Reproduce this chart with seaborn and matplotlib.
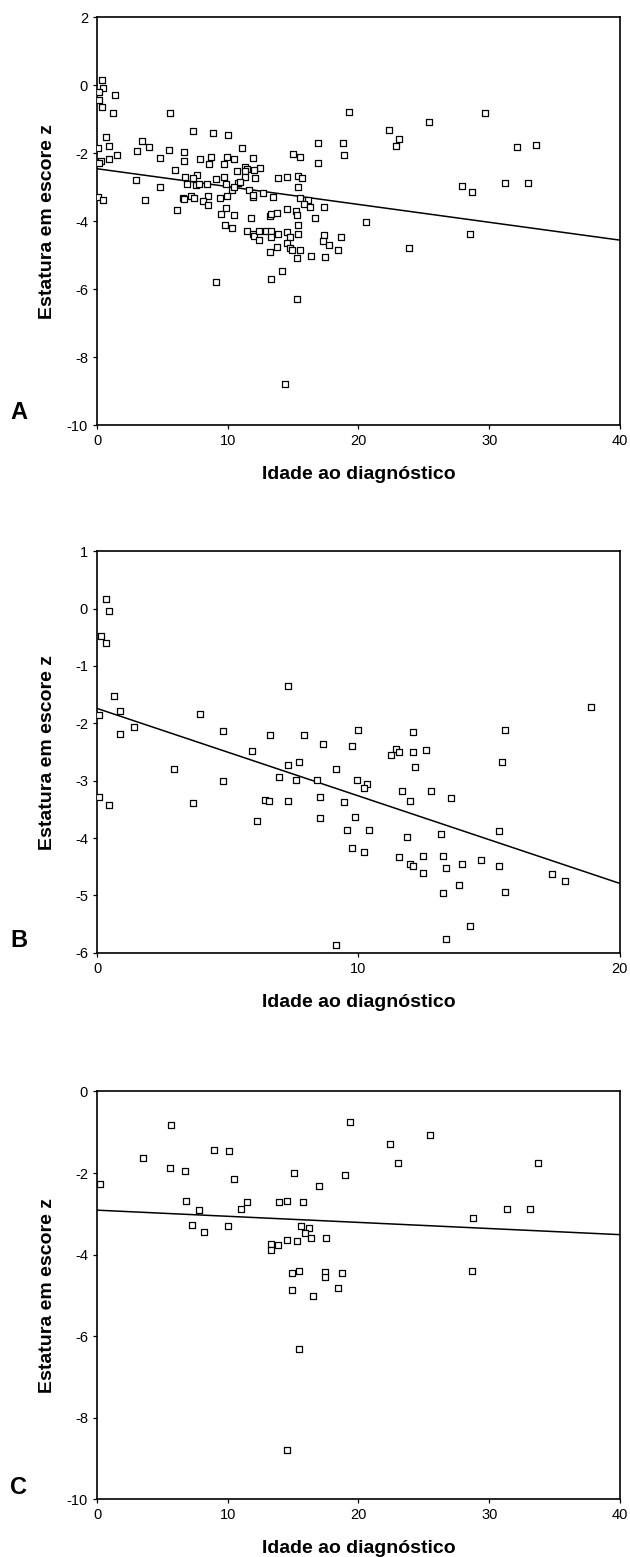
import matplotlib
matplotlib.use("Agg")
import matplotlib.pyplot as plt
import pandas as pd
import seaborn as sns

# Panel A: all patients
a_age = [0.38, 0.48, 0.18, 1.38, 0.18, 0.36, 1.20, 5.60, 7.37, 8.90, 10.0, 0.67, 3.47, 0.90, 4.00,
         0.08, 5.50, 3.07, 6.68, 11.07, 1.50, 8.70, 9.95, 4.80, 7.88, 6.68, 0.90, 0.28, 0.15, 10.45,
         11.97, 8.60, 9.75, 11.35, 12.50, 10.70, 11.50, 11.30, 12.00, 5.94, 2.96, 6.76, 7.67, 7.37, 9.75,
         9.10, 11.35, 12.07, 6.90, 7.55, 7.80, 8.40, 9.90, 10.80, 10.90, 4.80, 10.30, 10.50, 11.60, 11.90,
         11.95, 12.70, 0.08, 0.48, 3.70, 6.60, 6.65, 7.20, 7.45, 8.50, 8.10, 8.50, 9.40, 9.95, 6.15,
         9.13, 9.50, 9.87, 10.50, 9.77, 10.30, 11.80, 11.50, 11.90, 12.00, 12.40, 12.40, 12.90,
         19.3, 25.4, 22.3, 23.1, 22.9, 16.93, 18.8, 18.9, 16.93, 14.97, 15.5, 13.85, 14.5, 15.4, 15.7,
         15.4, 13.5, 15.5, 16.15, 15.8, 16.3, 17.4, 14.5, 15.2, 15.3, 16.7, 20.6, 13.2, 13.3, 13.75,
         15.4, 13.3, 13.85, 14.55, 15.4, 13.3, 14.8, 17.37, 17.27, 17.77, 18.7, 18.4, 23.85, 14.55, 14.77,
         14.9, 15.5, 13.2, 13.75, 16.4, 17.45, 15.28, 14.15, 13.3, 15.28, 14.36,
         29.7, 32.1, 33.6, 27.95, 28.7, 31.2, 33.0, 28.55]
a_z = [0.16, -0.08, -0.20, -0.29, -0.45, -0.63, -0.83, -0.83, -1.35, -1.42, -1.47, -1.54, -1.63, -1.78, -1.82,
       -1.85, -1.90, -1.94, -1.98, -1.85, -2.06, -2.10, -2.10, -2.14, -2.18, -2.22, -2.18, -2.22, -2.30, -2.18,
       -2.15, -2.33, -2.33, -2.41, -2.45, -2.53, -2.48, -2.52, -2.50, -2.49, -2.78, -2.69, -2.65, -2.74, -2.69,
       -2.77, -2.69, -2.73, -2.92, -2.94, -2.92, -2.92, -2.92, -2.88, -2.85, -3.00, -3.10, -3.00, -3.08, -3.30,
       -3.22, -3.16, -3.29, -3.39, -3.37, -3.33, -3.36, -3.27, -3.33, -3.25, -3.42, -3.52, -3.33, -3.27, -3.67,
       -5.78, -3.80, -3.61, -3.83, -4.12, -4.20, -3.92, -4.28, -4.37, -4.43, -4.29, -4.55, -4.30,
       -0.80, -1.08, -1.31, -1.59, -1.79, -1.71, -1.71, -2.06, -2.29, -2.02, -2.10, -2.74, -2.69, -2.66, -2.74,
       -3.01, -3.28, -3.32, -3.37, -3.49, -3.60, -3.60, -3.65, -3.69, -3.83, -3.92, -4.04, -3.86, -3.79, -3.76,
       -4.12, -4.28, -4.39, -4.31, -4.39, -4.47, -4.47, -4.42, -4.58, -4.71, -4.47, -4.84, -4.80, -4.65, -4.78,
       -4.86, -4.86, -4.91, -4.75, -5.02, -5.06, -5.09, -5.47, -5.70, -6.29, -8.79,
       -0.83, -1.82, -1.75, -2.97, -3.13, -2.89, -2.89, -4.39]
a_fit_x = [0, 40]
a_fit_z = [-2.46, -4.56]

# Panel B
b_age = [0.34, 0.46, 0.15, 0.34, 0.66, 0.86, 0.06, 3.95, 7.29, 1.41, 0.86, 4.81, 6.63, 5.93, 7.30,
         6.96, 2.95, 4.81, 0.06, 0.46, 3.66, 6.41, 6.56, 7.30, 6.13, 18.88, 9.97, 12.07, 15.60, 7.92,
         8.64, 9.76, 11.45, 11.55, 11.24, 12.07, 12.57, 15.49, 7.71, 9.14, 12.17, 7.61, 8.43, 9.96, 10.32,
         10.22, 11.65, 12.78, 11.96, 13.55, 8.54, 9.45, 8.54, 9.87, 9.56, 10.42, 13.14, 15.39, 11.86, 9.76,
         10.22, 11.55, 12.47, 13.24, 11.96, 12.07, 12.47, 13.35, 13.96, 14.68, 15.39, 17.39, 17.90, 13.86,
         13.24, 15.60, 14.27, 13.35, 9.14]
b_z = [0.16, -0.05, -0.47, -0.60, -1.53, -1.79, -1.86, -1.84, -1.35, -2.07, -2.18, -2.14, -2.20, -2.48, -2.72,
       -2.93, -2.79, -3.01, -3.29, -3.43, -3.39, -3.34, -3.36, -3.35, -3.71, -1.71, -2.11, -2.15, -2.11, -2.20,
       -2.36, -2.39, -2.44, -2.50, -2.55, -2.50, -2.46, -2.67, -2.67, -2.79, -2.76, -2.99, -2.98, -2.98, -3.05,
       -3.12, -3.18, -3.18, -3.35, -3.30, -3.28, -3.37, -3.65, -3.63, -3.86, -3.86, -3.93, -3.88, -3.98, -4.17,
       -4.24, -4.33, -4.31, -4.31, -4.45, -4.49, -4.61, -4.52, -4.45, -4.38, -4.49, -4.63, -4.75, -4.82,
       -4.96, -4.94, -5.53, -5.76, -5.86]
b_fit_x = [0, 20]
b_fit_z = [-1.74, -4.79]

# Panel C
c_age = [0.23, 5.66, 3.52, 8.98, 10.12, 5.59, 6.73, 10.50, 6.81, 7.83, 11.45, 11.04, 7.24, 8.16, 10.00,
         15.07, 19.38, 18.97, 17.00, 13.92, 14.54, 15.79, 15.58, 16.20, 15.91, 16.40, 17.54, 13.31, 13.31,
         13.82, 14.54, 15.28, 14.94, 15.48, 17.45, 17.45, 18.77, 14.94, 16.50, 18.46, 25.45, 22.40, 23.00,
         33.72, 31.37, 33.10, 28.77, 28.67, 15.44, 14.50]
c_z = [-2.28, -0.83, -1.62, -1.43, -1.46, -1.88, -1.95, -2.14, -2.68, -2.91, -2.72, -2.87, -3.27, -3.44, -3.30,
       -2.01, -0.76, -2.05, -2.32, -2.71, -2.68, -2.72, -3.30, -3.34, -3.47, -3.60, -3.60, -3.73, -3.89,
       -3.76, -3.64, -3.67, -4.46, -4.39, -4.42, -4.55, -4.46, -4.86, -5.02, -4.82, -1.06, -1.29, -1.75,
       -1.75, -2.88, -2.88, -3.11, -4.39, -6.32, -8.80]
c_fit_x = [0, 40]
c_fit_z = [-2.91, -3.51]

panels = [
    ("A", a_age, a_z, a_fit_x, a_fit_z, (0, 40), (-10, 2), 10, 2),
    ("B", b_age, b_z, b_fit_x, b_fit_z, (0, 20), (-6, 1), 10, 1),
    ("C", c_age, c_z, c_fit_x, c_fit_z, (0, 40), (-10, 0), 10, 2),
]
# axes boxes in figure fractions [left, bottom, width, height]
boxes = [
    [0.154, 0.727, 0.830, 0.262],
    [0.154, 0.388, 0.830, 0.258],
    [0.154, 0.037, 0.830, 0.262],
]

sns.set_theme(style="ticks")
plt.rcParams["font.family"] = ["Liberation Sans", "DejaVu Sans"]
plt.rcParams["axes.unicode_minus"] = False
plt.rcParams["text.color"] = "black"
plt.rcParams["axes.labelcolor"] = "black"

fig = plt.figure(figsize=(6.30, 15.57), dpi=100)

for (letter, xs, ys, fx, fy, xlim, ylim, xstep, ystep), box in zip(panels, boxes):
    ax = fig.add_axes(box)
    df = pd.DataFrame({"age": xs, "z": ys})
    fit = pd.DataFrame({"age": fx, "z": fy})

    # fitted regression line, then hollow square markers on top
    sns.lineplot(data=fit, x="age", y="z", ax=ax, color="black", linewidth=1.1)
    sns.scatterplot(
        data=df, x="age", y="z", ax=ax, marker="s", s=17,
        facecolor="white", edgecolor="black", linewidth=0.9, zorder=3,
    )

    ax.set_xlim(*xlim)
    ax.set_ylim(*ylim)
    ax.set_xticks(range(xlim[0], xlim[1] + 1, xstep))
    ax.set_yticks(range(ylim[0], ylim[1] + 1, ystep))
    ax.tick_params(axis="both", direction="out", length=3, width=0.9, labelsize=10.5,
                   colors="black", labelcolor="black")

    for sp in ax.spines.values():
        sp.set_visible(True)
        sp.set_linewidth(1.2)
        sp.set_color("black")

    ax.set_xlabel("Idade ao diagnóstico", fontsize=14, fontweight="bold", labelpad=13, color="black")
    ax.set_ylabel("Estatura em escore z", fontsize=14, fontweight="bold", color="black")
    ax.yaxis.set_label_coords(-0.078, 0.5)
    ax.text(-0.15, 0.03, letter, transform=ax.transAxes, fontsize=17,
            fontweight="bold", ha="center", va="center", color="black")

fig.savefig("out.png", dpi=100, facecolor="white")
plt.close(fig)
